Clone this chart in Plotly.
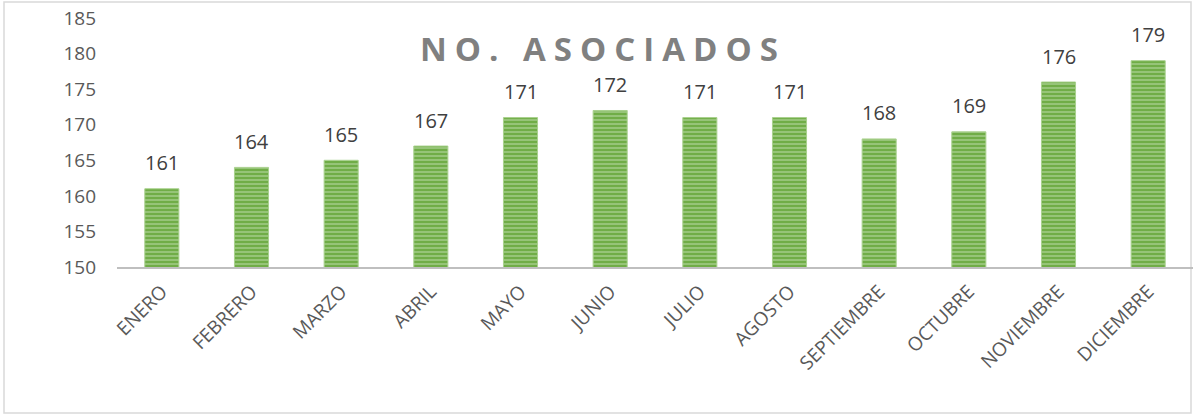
import plotly.graph_objects as go

months = ["ENERO", "FEBRERO", "MARZO", "ABRIL", "MAYO", "JUNIO", "JULIO",
          "AGOSTO", "SEPTIEMBRE", "OCTUBRE", "NOVIEMBRE", "DICIEMBRE"]
asociados = [161, 164, 165, 167, 171, 172, 171, 171, 168, 169, 176, 179]
y_ticks = [150, 155, 160, 165, 170, 175, 180, 185]

# plot area in page px: x 117..1193, y 18..267
PX_L, PX_R, PX_T, PX_B = 117, 1193, 18, 267
W_PLOT, H_PLOT = PX_R - PX_L, PX_B - PX_T


def px(xp):
    return (xp - PX_L) / W_PLOT


def py(yp):
    return (PX_B - yp) / H_PLOT


fig = go.Figure()
fig.add_trace(go.Bar(
    x=months, y=asociados,
    hoverinfo="skip",
    marker=dict(
        color="#70AD47",
        line=dict(color="#A9D18E", width=1),
        pattern=dict(shape="-", fillmode="overlay", fgcolor="#C5E0B4",
                     size=4, solidity=0.45),
    ),
))

annotations = [dict(
    x=m, y=v, xref="x", yref="y", text=str(v), showarrow=False,
    yshift=26, yanchor="middle", xanchor="center",
    font=dict(family="Open Sans, sans-serif", size=20, color="#404040"),
) for m, v in zip(months, asociados)]

annotations.append(dict(
    text='<b><span style="letter-spacing:8px">NO. ASOCIADOS</span></b>',
    xref="paper", yref="paper",
    x=px(603), y=py(48),
    xanchor="center", yanchor="middle", showarrow=False,
    font=dict(family="Open Sans, sans-serif", size=33, color="#808080"),
))

fig.update_layout(
    width=1193, height=415,
    margin=dict(l=PX_L, r=1193 - PX_R, t=PX_T, b=415 - PX_B, autoexpand=False),
    plot_bgcolor="white", paper_bgcolor="white",
    bargap=0.62,
    showlegend=False,
    font=dict(family="Open Sans, sans-serif", color="#595959"),
    xaxis=dict(
        tickangle=-45,
        tickfont=dict(size=19, color="#595959"),
        showline=True, linecolor="#BFBFBF", linewidth=2,
        ticks="", showgrid=False, automargin=False,
        ticklabelstandoff=4, ticklabeloverflow="allow",
    ),
    yaxis=dict(
        range=[150, 185],
        tickvals=y_ticks,
        tickfont=dict(size=19, color="#595959"),
        showline=False, showgrid=False, zeroline=False,
        ticks="", automargin=False,
        ticklabelstandoff=20, ticklabeloverflow="allow",
    ),
    annotations=annotations,
    shapes=[dict(
        type="rect", xref="paper", yref="paper",
        x0=px(4), x1=px(1191),
        y0=py(413), y1=py(2),
        line=dict(color="#D9D9D9", width=1.5), fillcolor="rgba(0,0,0,0)",
        layer="below",
    )],
)

fig.write_html("out.html",
               config={"displayModeBar": False},
               post_script="document.body.style.margin='0px';")
